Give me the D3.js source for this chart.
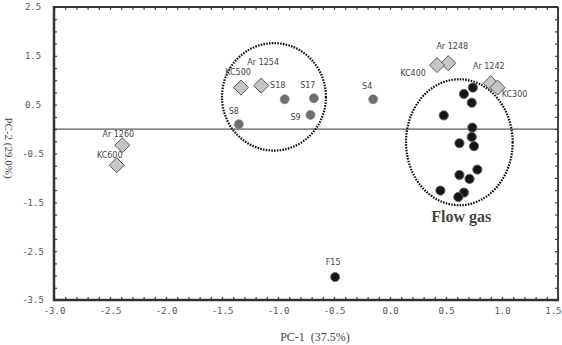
<!DOCTYPE html>
<html><head><meta charset="utf-8">
<script src="https://cdn.jsdelivr.net/npm/d3@7"></script>
<style>body{margin:0;background:#fff}svg{display:block}</style>
</head><body>
<svg id="c" width="562" height="345"></svg>
<script>
// ---- data ----
const diamondNames = ["Ar1260","KC600","KC500","Ar1254","Ar1248","KC400","Ar1242","KC300"];
const diamondLabels = ["Ar 1260","KC600","KC500","Ar 1254","Ar 1248","KC400","Ar 1242","KC300"];
const diamondPC1 = [-2.39,-2.44,-1.33,-1.15,0.52,0.42,0.90,0.96];
const diamondPC2 = [-0.33,-0.74,0.85,0.89,1.35,1.31,0.94,0.85];

const soilNames = ["S18","S17","S9","S8","S4"];
const soilPC1 = [-0.94,-0.68,-0.71,-1.35,-0.15];
const soilPC2 = [0.61,0.63,0.29,0.10,0.61];

const fireNames = ["F15"];
const firePC1 = [-0.49];
const firePC2 = [-3.03];

const flowPC1 = [0.74,0.66,0.73,0.48,0.735,0.73,0.62,0.75,0.78,0.62,0.71,0.45,0.66,0.61];
const flowPC2 = [0.85,0.72,0.54,0.28,0.03,-0.16,-0.29,-0.35,-0.83,-0.94,-1.02,-1.26,-1.30,-1.39];

// cluster ellipses
const clusterCx = [-1.036, 0.619];
const clusterCy = [0.66, -0.27];
const clusterRx = [0.464, 0.476];
const clusterRy = [1.10, 1.29];

const xTickLabels = [-3.0,-2.5,-2.0,-1.5,-1.0,-0.5,0.0,0.5,1.0,1.5];
const yTickLabels = [2.5,1.5,0.5,-0.5,-1.5,-2.5,-3.5];
const xTitle = "PC-1  (37.5%)";
const yTitle = "PC-2 (29.0%)";
const groupLabel = "Flow gas";

// label offsets (layout, px)
const diamondLabelDx = [-4,-7,-3,2,4,-24,-2,17];
const diamondLabelDy = [-8,-7,-13,-21,-14,11,-14,9];
const soilLabelDx = [-7,-6,-15,-5,-6];
const soilLabelDy = [-11,-10,5,-10,-10];

// ---- chart ----
const svg = d3.select("#c");
const x = d3.scaleLinear().domain([-3,1.5]).range([54,558]);
const y = d3.scaleLinear().domain([-3.5,2.5]).range([300,7]);

const minorX = d3.range(-30,16).map(d=>d/10);
const minorY = d3.range(-14,11).map(d=>d/4);

const g = svg.append("g");
function styleAxis(sel){ sel.select(".domain").remove(); sel.selectAll("line").attr("stroke","#444").attr("stroke-width",1.2); }
g.append("g").attr("transform","translate(0,300)")
  .call(d3.axisBottom(x).tickValues(minorX).tickSize(-3).tickFormat("")).call(styleAxis);
g.append("g").attr("transform","translate(0,7)")
  .call(d3.axisTop(x).tickValues(minorX).tickSize(-3).tickFormat("")).call(styleAxis);
g.append("g").attr("transform","translate(54,0)")
  .call(d3.axisLeft(y).tickValues(minorY).tickSize(-3).tickFormat("")).call(styleAxis);
g.append("g").attr("transform","translate(558,0)")
  .call(d3.axisRight(y).tickValues(minorY).tickSize(-3).tickFormat("")).call(styleAxis);

// tick labels
const labX = g.append("g").attr("transform","translate(0,300)")
  .call(d3.axisBottom(x).tickValues(xTickLabels).tickSize(0).tickPadding(8).tickFormat(d=>d.toFixed(1)));
labX.select(".domain").remove();
labX.selectAll("text").attr("font-family","DejaVu Sans Mono, monospace").attr("font-size",9).attr("fill","#555");
labX.selectAll("text").filter(d=>d===1.5).attr("text-anchor","end").attr("x",3);
const labY = g.append("g").attr("transform","translate(54,0)")
  .call(d3.axisLeft(y).tickValues(yTickLabels).tickSize(0).tickPadding(0).tickFormat(d=>d.toFixed(1)));
labY.select(".domain").remove();
labY.selectAll("text").attr("font-family","DejaVu Sans Mono, monospace").attr("font-size",9).attr("fill","#555")
  .attr("text-anchor","middle").attr("x",-21);

// frame
g.append("line").attr("x1",54).attr("x2",558).attr("y1",7).attr("y2",7).attr("stroke","#333").attr("stroke-width",2);
g.append("line").attr("x1",558).attr("x2",558).attr("y1",7).attr("y2",300).attr("stroke","#444").attr("stroke-width",2);
g.append("line").attr("x1",54).attr("x2",54).attr("y1",6).attr("y2",301).attr("stroke","#333").attr("stroke-width",2.5);
g.append("line").attr("x1",53).attr("x2",559).attr("y1",300).attr("y2",300).attr("stroke","#333").attr("stroke-width",2.5);

// zero line
g.append("line").attr("x1",x(-3)).attr("x2",x(1.5)).attr("y1",y(0)).attr("y2",y(0)).attr("stroke","#333").attr("stroke-width",1);

// cluster ellipses
g.selectAll("ellipse.cl").data(clusterCx).join("ellipse")
  .attr("cx",(d,i)=>x(clusterCx[i])).attr("cy",(d,i)=>y(clusterCy[i]))
  .attr("rx",(d,i)=>x(clusterRx[i])-x(0)).attr("ry",(d,i)=>y(0)-y(clusterRy[i]))
  .attr("fill","none").attr("stroke","#111").attr("stroke-width",2.2).attr("stroke-dasharray","1.6,1.2");

const lblFont = "DejaVu Sans, sans-serif";
// diamonds
g.selectAll("path.dm").data(diamondNames).join("path")
  .attr("d",(d,i)=>{const cx=x(diamondPC1[i]), cy=y(diamondPC2[i]), r=7.5; return `M${cx},${cy-r}L${cx+r},${cy}L${cx},${cy+r}L${cx-r},${cy}Z`;})
  .attr("fill","#c6c6c6").attr("stroke","#555").attr("stroke-width",1);
g.selectAll("text.dl").data(diamondLabels).join("text")
  .attr("x",(d,i)=>x(diamondPC1[i])+diamondLabelDx[i]).attr("y",(d,i)=>y(diamondPC2[i])+diamondLabelDy[i])
  .attr("text-anchor","middle").attr("font-family",lblFont).attr("font-size",8).attr("fill","#444").text(d=>d);

// soil points
g.selectAll("circle.s").data(soilNames).join("circle")
  .attr("cx",(d,i)=>x(soilPC1[i])).attr("cy",(d,i)=>y(soilPC2[i])).attr("r",4.5)
  .attr("fill","#6e6e6e").attr("stroke","#888").attr("stroke-width",0.8);
g.selectAll("text.sl").data(soilNames).join("text")
  .attr("x",(d,i)=>x(soilPC1[i])+soilLabelDx[i]).attr("y",(d,i)=>y(soilPC2[i])+soilLabelDy[i])
  .attr("text-anchor","middle").attr("font-family",lblFont).attr("font-size",8).attr("fill","#444").text(d=>d);

// fire point
g.selectAll("circle.f").data(fireNames).join("circle")
  .attr("cx",(d,i)=>x(firePC1[i])).attr("cy",(d,i)=>y(firePC2[i])).attr("r",4.5)
  .attr("fill","#151515").attr("stroke","#666").attr("stroke-width",1);
g.selectAll("text.fl").data(fireNames).join("text")
  .attr("x",(d,i)=>x(firePC1[i])-2).attr("y",(d,i)=>y(firePC2[i])-12)
  .attr("text-anchor","middle").attr("font-family",lblFont).attr("font-size",8).attr("fill","#444").text(d=>d);

// flow gas points
g.selectAll("circle.fg").data(flowPC1).join("circle")
  .attr("cx",(d,i)=>x(flowPC1[i])).attr("cy",(d,i)=>y(flowPC2[i])).attr("r",4.6)
  .attr("fill","#151515").attr("stroke","#666").attr("stroke-width",1);

// group label
g.append("text").attr("x",x(clusterCx[1])+2).attr("y",222).attr("text-anchor","middle")
  .attr("font-family","Liberation Serif, Times New Roman, serif").attr("font-weight","bold").attr("font-size",16)
  .attr("fill","#444").text(groupLabel);

// axis titles
g.append("text").attr("x",315).attr("y",341).attr("text-anchor","middle")
  .attr("font-family","Liberation Serif, Times New Roman, serif").attr("font-size",12).attr("fill","#444")
  .attr("xml:space","preserve").style("white-space","pre").text(xTitle);
g.append("text").attr("transform","translate(5,148) rotate(90)").attr("text-anchor","middle")
  .attr("font-family","Liberation Serif, Times New Roman, serif").attr("font-size",11).attr("fill","#444").text(yTitle);
</script>
</body></html>
